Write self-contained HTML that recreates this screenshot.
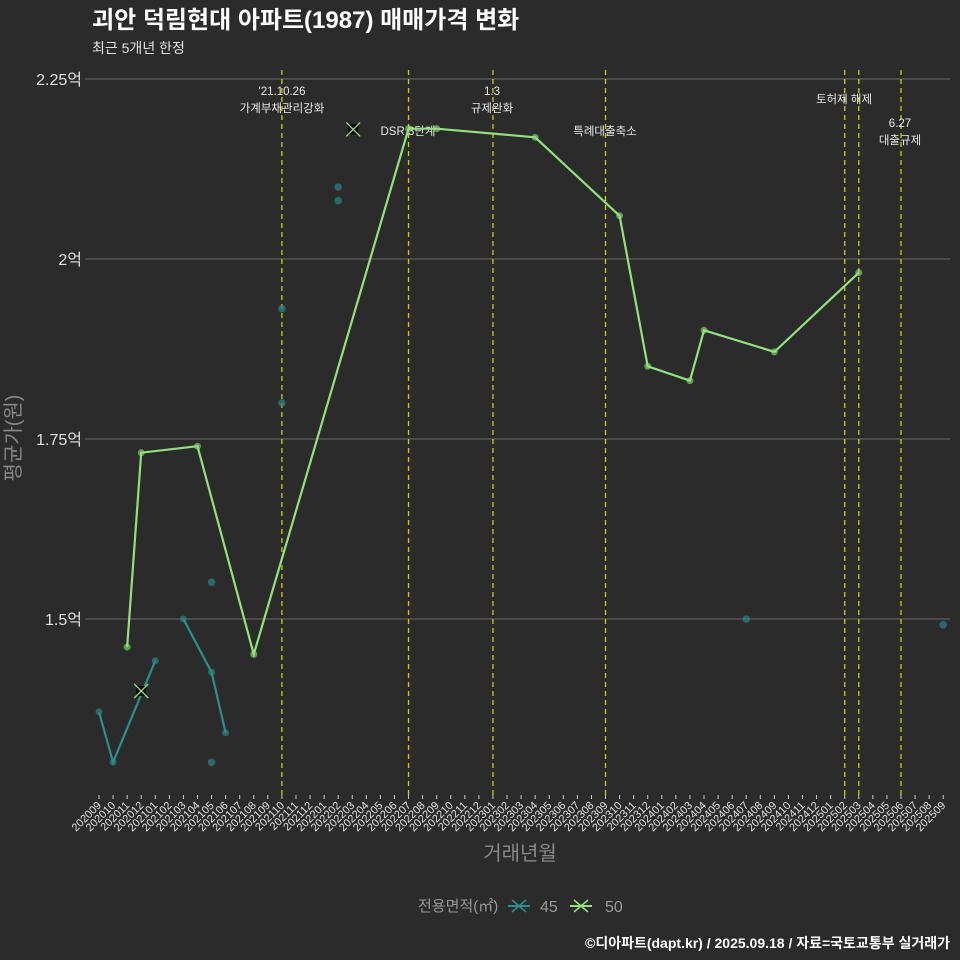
<!DOCTYPE html>
<html><head><meta charset="utf-8">
<style>
html,body{margin:0;padding:0;background:#2b2b2b;}
svg{display:block;font-family:"Liberation Sans","Noto Sans CJK KR",sans-serif;}
</style></head>
<body>
<svg id="chart" width="960" height="960" viewBox="0 0 960 960">
<rect width="960" height="960" fill="#2b2b2b"/>
<text x="92" y="28" font-size="24" font-weight="bold" fill="#ffffff">괴안 덕림현대 아파트(1987) 매매가격 변화</text>
<text x="92" y="53" font-size="14" fill="#e0e0e0">최근 5개년 한정</text>
<g id="grid"></g>
<g id="vlines"></g>
<g id="marks"></g>
<g id="xaxis"></g>
<text x="20" y="438" font-size="20" fill="#888" transform="rotate(-90 20 438)" text-anchor="middle">평균가(원)</text>
<text x="520" y="860" font-size="20" fill="#888" text-anchor="middle">거래년월</text>
<g>
<text x="418" y="911" font-size="15" fill="#999">전용면적(㎡)</text>
<g>
<line x1="508" y1="906" x2="530" y2="906" stroke="#2a9090" stroke-width="2"/>
<path d="M512 900 L526 912 M526 900 L512 912" stroke="#2a9090" stroke-width="1.5"/>
<text x="540" y="912" font-size="16" fill="#999">45</text></g>
<g>
<line x1="570" y1="906" x2="592" y2="906" stroke="#8fe37a" stroke-width="2"/>
<path d="M574 900 L588 912 M588 900 L574 912" stroke="#8fe37a" stroke-width="1.5"/>
<text x="605" y="912" font-size="16" fill="#999">50</text></g>
</g>
<text x="950" y="948" font-size="14" font-weight="bold" fill="#ffffff" text-anchor="end">©디아파트(dapt.kr) / 2025.09.18 / 자료=국토교통부 실거래가</text>
</svg>
<script>
const months = [];
for (let y=2020,m=9; !(y===2025&&m===10); ){ months.push(''+y+(m<10?'0'+m:m)); m++; if(m>12){m=1;y++;} }
const yTicks = [1.5,1.75,2,2.25];
const yTickLabels = ['1.5억','1.75억','2억','2.25억'];
const s45Months = ['202009','202010','202101'];
const s45Values = [1.371,1.301,1.442];
const s45bMonths = ['202103','202105','202106'];
const s45bValues = [1.5,1.426,1.342];
const s50Months = ['202011','202012','202104','202108','202207','202209','202304','202310','202312','202403','202404','202409','202503'];
const s50Values = [1.461,1.731,1.740,1.451,2.181,2.181,2.169,2.060,1.851,1.831,1.901,1.871,1.981];
const dotMonths = ['202105','202105','202110','202110','202202','202202','202407','202509'];
const dotValues = [1.551,1.301,1.931,1.800,2.100,2.081,1.500,1.492];
const crossMonths = ['202203','202012'];
const crossValues = [2.18,1.40];
const eventMonths = ['202110','202207','202301','202309','202502','202503','202506'];
const eventLabels = [["'21.10.26","가계부채관리강화"],["DSR 3단계"],["1.3","규제완화"],["특례대출축소"],["토허제 해제"],[],["6.27","대출규제"]];
const NS='http://www.w3.org/2000/svg';
function x(mo){return 99+months.indexOf(mo)*14.07;}
function y(v){return 259-(v-2)*720;}
function mk(tag,attrs,parent){const e=document.createElementNS(NS,tag);for(const k in attrs)e.setAttribute(k,attrs[k]);parent.appendChild(e);return e;}
const grid=document.getElementById('grid'),vl=document.getElementById('vlines'),mg=document.getElementById('marks'),xa=document.getElementById('xaxis');
yTicks.forEach((v,i)=>{
  const l=mk('line',{x1:85,x2:950,y1:y(v),y2:y(v),stroke:'#6a6a6a','stroke-width':1},grid);
  
  
  const t=mk('text',{x:82,y:y(v)+6,'font-size':16,fill:'#e0e0e0','text-anchor':'end'},grid);
  t.textContent=yTickLabels[i];
  
  
});
const labelPos=[[282,95],[408,131],[492,95],[605,131],[844,99],[858,99],[900,127]];
const labelX=[282,408,492,605,844,858,900];
eventMonths.forEach((mo,i)=>{
  const l=mk('line',{x1:x(mo),x2:x(mo),y1:70,y2:795,stroke:'#c8d000','stroke-width':1.3,'stroke-dasharray':'5 4'},vl);
  
  
});
const annos=[[282,95,eventLabels[0]],[408,135,eventLabels[1]],[492,95,eventLabels[2]],[605,135,eventLabels[3]],[844,103,eventLabels[4]],[900,127,eventLabels[6]]];
annos.forEach(a=>{
  a[2].forEach((s,j)=>{
    const dx = s==='DSR 3단계'?0:(s==='토허제 해제'?0:0);
    const t=mk('text',{x:s==='DSR 3단계'?408:a[0],y:a[1]+j*17,'font-size':11.5,fill:'#e8e8e8','text-anchor':'middle'},vl);
    t.textContent=s;
    
    
  });
});
function line(ms,vs,col,name){
  const p=mk('polyline',{points:ms.map((m,i)=>x(m)+','+y(vs[i])).join(' '),fill:'none',stroke:col,'stroke-width':2.2},mg);
  
  
  ms.forEach((m,i)=>{const c=mk('circle',{cx:x(m),cy:y(vs[i]),r:3.5,fill:col,'fill-opacity':0.6},mg);
    
    });
}
dotMonths.forEach((m,i)=>{const c=mk('circle',{cx:x(m),cy:y(dotValues[i]),r:3.8,fill:'#2a8a8a','fill-opacity':0.65},mg);
  
  });
line(s45Months,s45Values,'#2a9090','series-45-line');
line(s45bMonths,s45bValues,'#2a9090','series-45-line');
line(s50Months,s50Values,'#8fe37a','series-50-line');
crossMonths.forEach((m,i)=>{
  const cx=x(m)+(i===0?1:0),cy=y(crossValues[i]);
  const g=mk('g',{},mg);
  
  
  mk('rect',{x:cx-5,y:cy-5,width:10,height:10,fill:'#000'},g);
  mk('path',{d:`M${cx-7} ${cy-7}L${cx+7} ${cy+7}M${cx+7} ${cy-7}L${cx-7} ${cy+7}`,stroke:'#8fe37a','stroke-width':1.3},g);
});
months.forEach(m=>{
  const xx=x(m);
  const tk=mk('line',{x1:xx,x2:xx,y1:795,y2:799,stroke:'#ccc'},xa);
  
  
  const t=mk('text',{x:xx+3,y:806,'font-size':11,fill:'#e0e0e0','text-anchor':'end',transform:`rotate(-45 ${xx+3} 806)`},xa);
  t.textContent=m;
  
  
});
</script>
</body></html>
